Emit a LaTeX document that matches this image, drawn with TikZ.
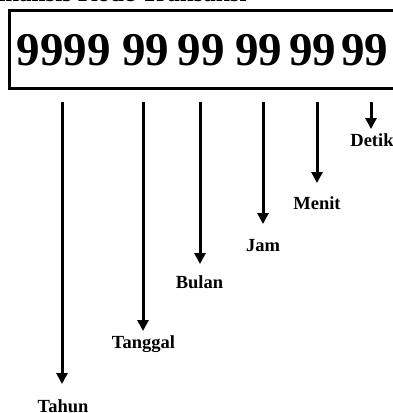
\documentclass[tikz,border=0pt]{standalone}
\usepackage{fontspec}
\setmainfont{Liberation Serif}
\usetikzlibrary{arrows.meta}
\begin{document}
\begin{tikzpicture}[x=1pt,y=-1pt,
  digits/.style={inner sep=0pt,anchor=base,font=\fontsize{47}{47}\selectfont\bfseries},
  lbl/.style={inner sep=0pt,anchor=base,font=\fontsize{18.5}{18.5}\selectfont\bfseries},
  ttl/.style={inner sep=0pt,anchor=base west,font=\fontsize{25}{25}\selectfont\bfseries},
  arr/.style={line width=3pt,-{Triangle[width=11pt,length=11pt]}}]
\useasboundingbox (0,0) rectangle (393,413);
\clip (0,0) rectangle (393,413);
\fill[white] (0,0) rectangle (393,413);
\node[ttl] (title) at (-13,1.5) {Analisis Kode Transaksi};
\draw[line width=3pt] (400,10.5) -- (9.7,10.5) -- (9.7,88.7) -- (400,88.7);
\node[digits] (g1) at (63.5,65) {9999};
\node[digits] (g2) at (145.5,65) {99};
\node[digits] (g3) at (201,65) {99};
\node[digits] (g4) at (258.5,65) {99};
\node[digits] (g5) at (312.5,65) {99};
\node[digits] (g6) at (364.5,65) {99};
\coordinate (s1) at (62,102);  \coordinate (e1) at (62,384);
\coordinate (s2) at (143,102); \coordinate (e2) at (143,331);
\coordinate (s3) at (200,102); \coordinate (e3) at (200,264);
\coordinate (s4) at (263,102); \coordinate (e4) at (263,224);
\coordinate (s5) at (317,102); \coordinate (e5) at (317,183);
\coordinate (s6) at (371,102); \coordinate (e6) at (371,129);
\draw[arr] (s1) -- (e1);
\draw[arr] (s2) -- (e2);
\draw[arr] (s3) -- (e3);
\draw[arr] (s4) -- (e4);
\draw[arr] (s5) -- (e5);
\draw[arr] (s6) -- (e6);
\node[lbl] (tahun) at (63,412) {Tahun};
\node[lbl] (tanggal) at (143.5,348) {Tanggal};
\node[lbl] (bulan) at (199.5,288) {Bulan};
\node[lbl] (jam) at (263,251) {Jam};
\node[lbl] (menit) at (317,209) {Menit};
\node[lbl] (detik) at (372,146) {Detik};
\end{tikzpicture}
\end{document}
